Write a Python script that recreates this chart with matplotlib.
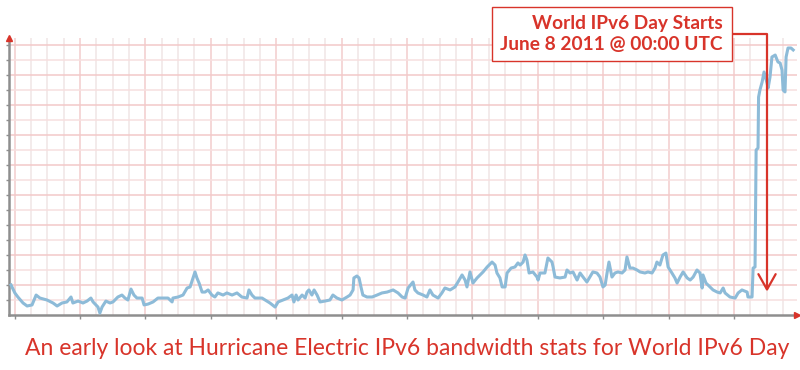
import matplotlib
matplotlib.use('Agg')
import matplotlib.pyplot as plt
from matplotlib.ticker import MultipleLocator

red = '#d8342a'
blue = '#8dbbd8'
axis_grey = '#8e8e8e'

# hours since start of the window, and traffic (one unit = one grid row)
hours = [-1.3, 0.1, 1.2, 3.1, 4.6, 6.4, 7.9, 9.3, 11.9, 14.1, 15.6, 17.4, 19.2, 20.7, 21.4,
         23.3, 25.1, 26.6, 28.0, 28.8, 30.6, 31.3, 32.1, 33.5, 35.0, 36.1, 37.9, 39.4, 40.5,
         41.6, 42.7, 43.8, 44.9, 46.8, 47.5, 49.0, 50.8, 52.6, 54.5, 56.3, 57.8, 58.1, 60.0,
         61.8, 63.3, 64.4, 65.5, 66.2, 66.9, 67.7, 68.8, 69.9, 71.0, 72.4, 73.5, 74.6, 76.5,
         77.9, 79.8, 81.6, 83.4, 85.3, 86.0, 87.1, 88.2, 90.8, 93.7, 95.6, 96.7, 98.5, 100.3,
         101.8, 102.5, 103.3, 104.0, 105.5, 106.6, 107.3, 108.0, 109.1, 109.9, 111.0, 112.1,
         113.9, 115.7, 116.8, 118.3, 120.1, 122.0, 123.1, 124.2, 124.5, 125.6, 126.4, 127.1,
         127.8, 129.3, 131.2, 133.0, 134.8, 136.7, 138.9, 140.7, 142.2, 143.3, 144.4, 146.2,
         146.9, 148.0, 149.9, 151.3, 152.4, 153.5, 155.4, 156.8, 157.9, 159.8, 161.6, 162.7,
         164.2, 165.3, 166.0, 167.1, 168.2, 169.7, 170.8, 171.9, 173.4, 175.2, 176.3, 177.0,
         178.1, 178.9, 180.0, 180.7, 182.2, 183.6, 184.7, 185.5, 186.6, 187.3, 188.0, 188.8,
         190.2, 191.7, 192.1, 192.8, 194.6, 195.7, 197.2, 197.6, 198.3, 200.1, 202.0, 202.7,
         203.8, 204.9, 206.4, 207.5, 208.6, 210.0, 211.1, 212.2, 213.7, 214.8, 215.9, 216.7,
         217.4, 218.1, 219.2, 220.3, 221.4, 222.9, 224.0, 224.7, 225.8, 226.9, 228.4, 229.5,
         231.3, 232.4, 233.9, 235.0, 235.7, 236.8, 237.9, 239.0, 239.8, 241.2, 242.3, 243.1,
         244.2, 245.3, 246.8, 247.9, 249.0, 250.4, 251.5, 252.3, 252.6, 253.7, 255.2, 256.3,
         257.8, 258.9, 260.0, 260.7, 262.5, 264.4, 265.5, 266.9, 268.8, 269.1, 270.6, 271.0,
         271.7, 272.1, 272.8, 273.0, 273.5, 274.3, 275.0, 276.1, 276.5, 277.2, 277.9, 279.1,
         280.1, 280.9, 281.6, 282.0, 282.7, 283.1, 283.8, 284.9, 285.7]
traffic = [2.00, 1.47, 1.20, 0.80, 0.60, 0.67, 1.33, 1.13, 1.00, 0.80, 0.60, 0.80, 0.87, 1.20, 0.80,
           0.93, 0.80, 0.93, 1.13, 0.87, 0.53, 0.13, 0.53, 0.93, 0.80, 0.87, 1.20, 1.33, 1.13,
           1.00, 1.73, 1.33, 1.13, 1.13, 0.67, 0.73, 0.87, 1.13, 1.13, 1.13, 0.87, 1.13, 1.20,
           1.33, 1.80, 1.87, 2.47, 2.87, 2.47, 2.13, 1.53, 1.53, 1.67, 1.33, 1.20, 1.47, 1.33,
           1.47, 1.33, 1.47, 1.20, 1.13, 1.67, 1.33, 1.13, 1.13, 0.80, 0.53, 0.87, 1.00, 1.13,
           1.33, 0.87, 1.33, 1.00, 1.33, 1.13, 1.53, 1.67, 1.33, 1.67, 1.33, 0.87,
           0.93, 1.00, 1.33, 1.13, 1.00, 1.20, 1.33, 1.67, 2.47, 2.60, 2.47, 1.87,
           1.33, 1.20, 1.20, 1.33, 1.47, 1.53, 1.67, 1.47, 1.20, 1.13, 1.80, 2.20,
           1.67, 1.47, 1.33, 1.20, 1.67, 1.33, 1.13, 1.47, 1.80, 1.67, 1.87, 2.20,
           2.67, 2.33, 1.87, 2.87, 2.13, 2.47, 2.67, 2.87, 3.20, 3.53, 3.33, 2.80,
           2.47, 1.87, 1.87, 2.80, 3.13, 3.20, 3.47, 3.33, 3.53, 4.00, 3.67, 2.80,
           2.87, 2.53, 2.33, 2.80, 2.80, 3.80, 3.53, 3.20, 2.53, 2.47, 2.53, 3.00,
           2.80, 2.87, 2.33, 2.80, 2.53, 2.20, 2.53, 2.87, 2.80, 2.53, 1.87, 2.00,
           2.80, 3.53, 2.53, 2.80, 2.87, 2.80, 3.00, 3.87, 3.13, 3.13, 3.00, 2.87,
           2.80, 2.87, 2.80, 3.13, 3.53, 3.33, 4.00, 4.13, 3.20, 2.80, 2.47, 2.13,
           2.53, 2.87, 2.47, 2.33, 2.53, 3.00, 2.80, 1.80, 2.67, 2.13, 1.87, 1.67,
           1.53, 1.47, 1.80, 1.47, 1.20, 1.13, 1.47, 1.67, 1.53, 1.20, 1.20, 3.13,
           3.20, 11.00, 11.13, 14.53, 15.00, 15.53, 16.20, 15.47, 15.13, 15.87, 17.20, 17.33,
           16.87, 16.80, 16.33, 15.00, 14.87, 17.20, 17.80, 17.80, 17.67]

day_start = 276.1
callout_lines = ['World IPv6 Day Starts', 'June 8 2011 @ 00:00 UTC']
caption = 'An early look at Hurricane Electric IPv6 bandwidth stats for World IPv6 Day'

fig = plt.figure(figsize=(8, 3.7), dpi=100)
ax = fig.add_axes([9 / 800, 55 / 370, 788 / 800, 277.5 / 370])

ax.set_xlim(-2.05, 287.1)
ax.set_ylim(0, 18.5)

# graph paper grid
ax.xaxis.set_major_locator(MultipleLocator(24))
ax.xaxis.set_minor_locator(MultipleLocator(6))
ax.set_yticks([v for v in range(2, 19, 2)])
ax.set_yticks([v for v in range(1, 19, 2)], minor=True)
ax.grid(which='major', axis='x', color='#f2cdcd', lw=1.1, zorder=0)
ax.grid(which='minor', axis='x', color='#f0e6e6', lw=1.1, zorder=0)
ax.grid(which='major', axis='y', color='#f3c9c9', lw=1.1, zorder=0)
ax.grid(which='minor', axis='y', color='#f7dfdf', lw=1.1, zorder=0)
ax.tick_params(which='both', labelbottom=False, labelleft=False, colors=axis_grey)
ax.tick_params(axis='y', which='both', length=2, width=1)
ax.tick_params(axis='x', which='major', length=3, width=1)
ax.tick_params(axis='x', which='minor', length=0)

for side in ['top', 'right']:
    ax.spines[side].set_visible(False)
for side in ['left', 'bottom']:
    ax.spines[side].set_color(axis_grey)
    ax.spines[side].set_linewidth(1.8)

ax.plot(1, 0, '>', color=red, ms=4, transform=ax.transAxes, clip_on=False, zorder=5)
ax.plot(0, 1, '^', color=red, ms=4, transform=ax.transAxes, clip_on=False, zorder=5)

ax.plot(hours, traffic, color=blue, lw=2.2, solid_joinstyle='round', zorder=3)

ax.annotate('\n'.join(callout_lines), xy=(day_start, 1.55), xycoords='data',
            xytext=(723, 336), textcoords='figure pixels',
            ha='right', va='center', multialignment='right',
            fontsize=13.8, fontweight='bold', family='Lato', color=red, linespacing=1.25,
            bbox=dict(boxstyle='square,pad=0.45', fc='white', ec=red, lw=1),
            arrowprops=dict(arrowstyle='->,head_length=0.8,head_width=0.45', color=red, lw=1.6,
                            connectionstyle='angle,angleA=0,angleB=90,rad=0',
                            shrinkA=0, shrinkB=0),
            annotation_clip=False, zorder=6)

fig.text(407 / 800, 15 / 370, caption, ha='center', va='baseline',
         fontsize=16.5, family='Lato', color=red)

fig.savefig('out.png', dpi=100, facecolor='white')
